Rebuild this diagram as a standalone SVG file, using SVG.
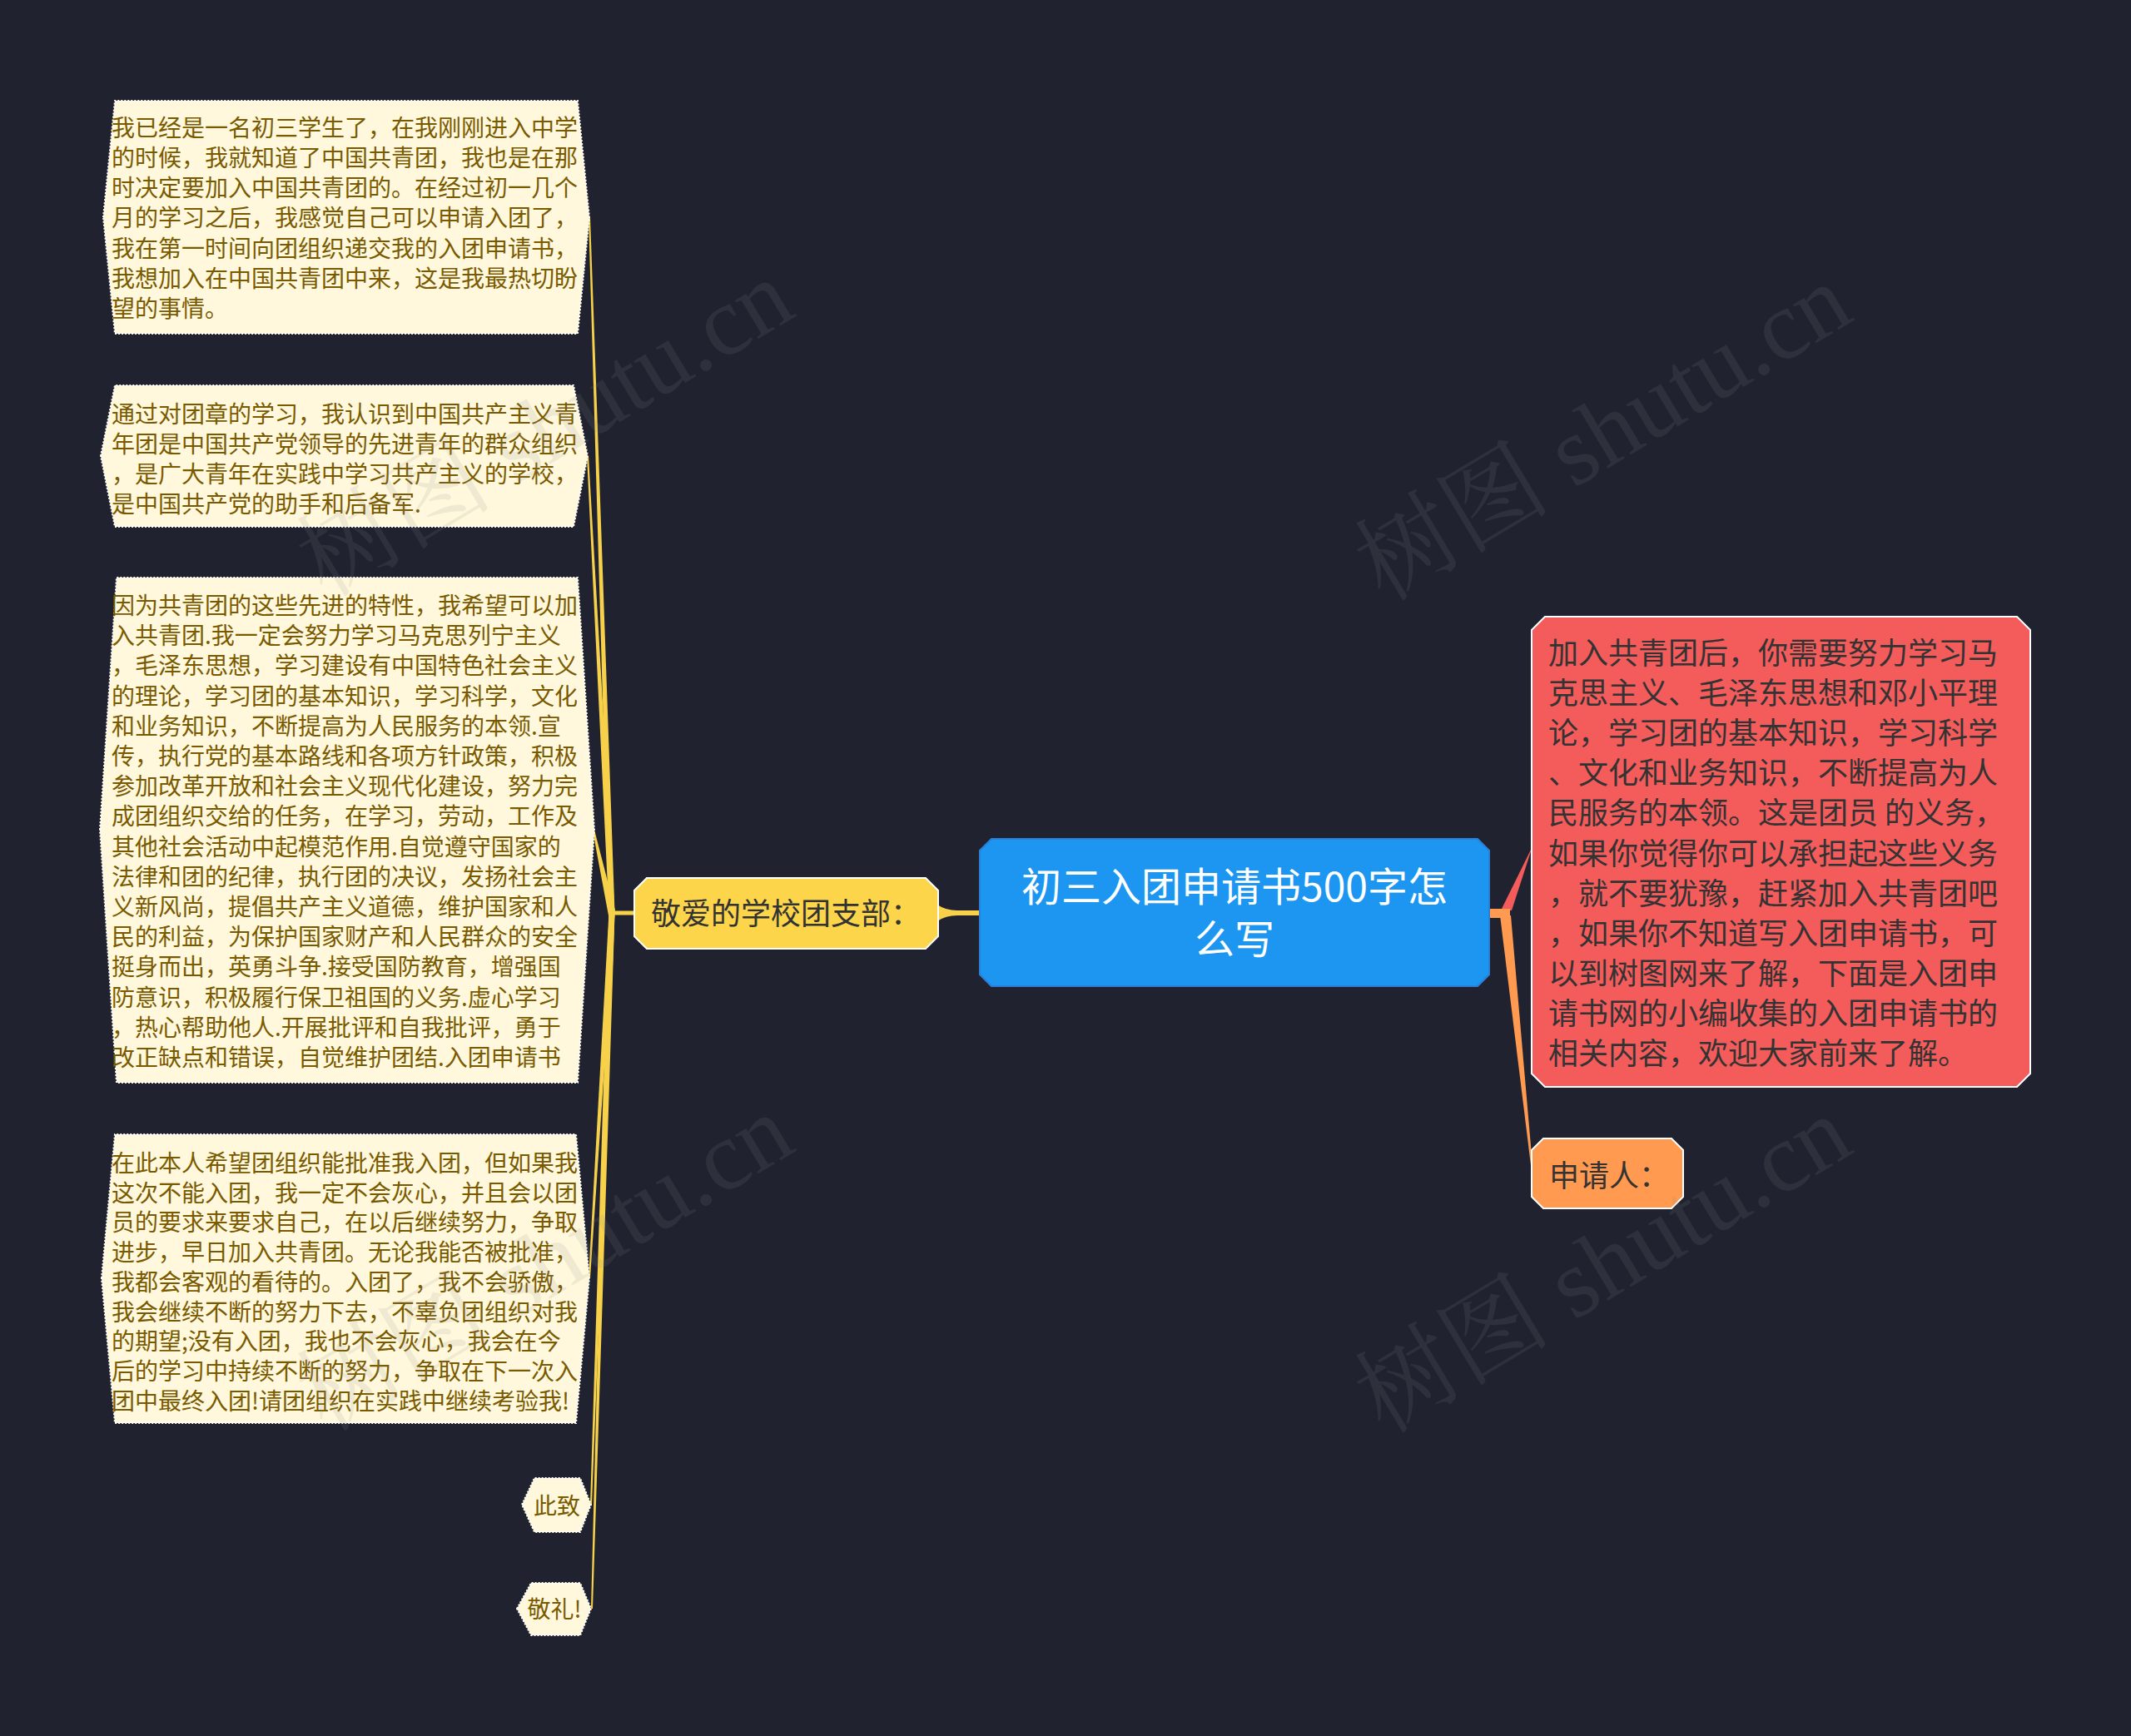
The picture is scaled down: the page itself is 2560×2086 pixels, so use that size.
<svg xmlns="http://www.w3.org/2000/svg" width="2560" height="2086" viewBox="0 0 2560 2086">
<style>
.bg{fill:#20232f}
.leaf{fill:#fff8dc;stroke:#ffffff;stroke-width:2;stroke-dasharray:2 2}
.lt{font-family:"Noto Sans CJK SC","Noto Sans",sans-serif;font-size:28px;fill:#7a5a00}
.dt{font-family:"Noto Sans CJK SC","Noto Sans",sans-serif;font-size:36px;fill:#333333}
.rt{font-family:"Noto Sans CJK SC","Noto Sans",sans-serif;font-size:48px;fill:#ffffff}
.wm{font-family:"Liberation Serif","Noto Serif CJK SC","Noto Sans CJK SC",serif;font-size:118px;fill:#8a8a8a;opacity:0.13}
.yc{fill:#f7d14a}
</style>
<rect class="bg" x="0" y="0" width="2560" height="2086"/>

<g id="connectors">
  <rect class="yc" x="733" y="1094.5" width="31" height="5"/>
  <polygon class="yc" points="731.5,1097 738.5,1097 709,261 707,261"/>
  <polygon class="yc" points="731.5,1097 738.5,1097 707,548 705,548"/>
  <polygon class="yc" points="731,1100 739,1094 714,997 712,998"/>
  <polygon class="yc" points="731.5,1097 738.5,1097 709,1536 707,1536"/>
  <polygon class="yc" points="731.5,1097 738.5,1097 711,1808 709,1808"/>
  <polygon class="yc" points="731.5,1097 738.5,1097 712,1933 710,1933"/>
  <path class="yc" d="M1178 1094 L1150 1094 Q1136 1094 1126 1087 L1126 1107 Q1136 1100 1150 1100 L1178 1100 Z"/>
  <polygon fill="#f45b5b" points="1803,1094 1816,1094 1841,1017"/>
  <rect fill="#ff9a50" x="1788" y="1092" width="26" height="11"/>
  <polygon fill="#ff9a50" points="1802,1100 1815,1100 1841,1400 1839,1400"/>
</g>

<g id="node-root">
  <polygon fill="#1c96f0" stroke="#2b7fd6" stroke-width="2" points="1191,1008 1775,1008 1789,1022 1789,1171 1775,1185 1191,1185 1177,1171 1177,1022"/>
  <text class="rt" text-anchor="middle"><tspan x="1483" y="1083">初三入团申请书500字怎</tspan><tspan x="1483" y="1146">么写</tspan></text>
</g>

<g id="node-hub">
  <polygon fill="#fdd54a" stroke="#ffffff" stroke-width="2" points="777,1055 1112,1055 1127,1070 1127,1125 1112,1140 777,1140 762,1125 762,1070"/>
  <text class="dt" x="782" y="1111">敬爱的学校团支部：</text>
</g>

<g id="node-leaf1">
  <polygon class="leaf" points="124,261 138,121 694,121 708,261 694,401 138,401"/>
  <text class="lt"><tspan x="134" y="164">我已经是一名初三学生了，在我刚刚进入中学</tspan><tspan x="134" y="200">的时候，我就知道了中国共青团，我也是在那</tspan><tspan x="134" y="236">时决定要加入中国共青团的。在经过初一几个</tspan><tspan x="134" y="272">月的学习之后，我感觉自己可以申请入团了，</tspan><tspan x="134" y="309">我在第一时间向团组织递交我的入团申请书，</tspan><tspan x="134" y="345">我想加入在中国共青团中来，这是我最热切盼</tspan><tspan x="134" y="381">望的事情。</tspan></text>
</g>

<g id="node-leaf2">
  <polygon class="leaf" points="121,548 138,463 689,463 706,548 689,633 138,633"/>
  <text class="lt"><tspan x="134" y="508">通过对团章的学习，我认识到中国共产主义青</tspan><tspan x="134" y="544">年团是中国共产党领导的先进青年的群众组织</tspan><tspan x="134" y="580">，是广大青年在实践中学习共产主义的学校，</tspan><tspan x="134" y="616">是中国共产党的助手和后备军.</tspan></text>
</g>

<g id="node-leaf3">
  <polygon class="leaf" points="120,997 140,694 694,694 714,997 694,1301 140,1301"/>
  <text class="lt"><tspan x="134" y="738">因为共青团的这些先进的特性，我希望可以加</tspan><tspan x="134" y="774">入共青团.我一定会努力学习马克思列宁主义</tspan><tspan x="134" y="810">，毛泽东思想，学习建设有中国特色社会主义</tspan><tspan x="134" y="847">的理论，学习团的基本知识，学习科学，文化</tspan><tspan x="134" y="883">和业务知识，不断提高为人民服务的本领.宣</tspan><tspan x="134" y="919">传，执行党的基本路线和各项方针政策，积极</tspan><tspan x="134" y="955">参加改革开放和社会主义现代化建设，努力完</tspan><tspan x="134" y="991">成团组织交给的任务，在学习，劳动，工作及</tspan><tspan x="134" y="1028">其他社会活动中起模范作用.自觉遵守国家的</tspan><tspan x="134" y="1064">法律和团的纪律，执行团的决议，发扬社会主</tspan><tspan x="134" y="1100">义新风尚，提倡共产主义道德，维护国家和人</tspan><tspan x="134" y="1136">民的利益，为保护国家财产和人民群众的安全</tspan><tspan x="134" y="1172">挺身而出，英勇斗争.接受国防教育，增强国</tspan><tspan x="134" y="1209">防意识，积极履行保卫祖国的义务.虚心学习</tspan><tspan x="134" y="1245">，热心帮助他人.开展批评和自我批评，勇于</tspan><tspan x="134" y="1281">改正缺点和错误，自觉维护团结.入团申请书</tspan></text>
</g>

<g id="node-leaf4">
  <polygon class="leaf" points="122,1536 138,1363 692,1363 708,1536 692,1710 138,1710"/>
  <text class="lt"><tspan x="134" y="1408">在此本人希望团组织能批准我入团，但如果我</tspan><tspan x="134" y="1444">这次不能入团，我一定不会灰心，并且会以团</tspan><tspan x="134" y="1479">员的要求来要求自己，在以后继续努力，争取</tspan><tspan x="134" y="1515">进步，早日加入共青团。无论我能否被批准，</tspan><tspan x="134" y="1551">我都会客观的看待的。入团了，我不会骄傲，</tspan><tspan x="134" y="1587">我会继续不断的努力下去，不辜负团组织对我</tspan><tspan x="134" y="1622">的期望;没有入团，我也不会灰心，我会在今</tspan><tspan x="134" y="1658">后的学习中持续不断的努力，争取在下一次入</tspan><tspan x="134" y="1694">团中最终入团!请团组织在实践中继续考验我!</tspan></text>
</g>

<g id="node-cizhi">
  <polygon class="leaf" points="627,1808 642,1776 697,1776 710,1808 697,1841 642,1841"/>
  <text class="lt" x="669" y="1820" text-anchor="middle">此致</text>
</g>

<g id="node-jingli">
  <polygon class="leaf" points="621,1933 638,1902 697,1902 710,1933 697,1965 638,1965"/>
  <text class="lt" x="666" y="1944" text-anchor="middle">敬礼!</text>
</g>

<g id="node-red">
  <polygon fill="#f45b5b" stroke="#ffffff" stroke-width="2" points="1856,741 2423,741 2439,757 2439,1290 2423,1306 1856,1306 1840,1290 1840,757"/>
  <text class="dt"><tspan x="1860" y="798">加入共青团后，你需要努力学习马</tspan><tspan x="1860" y="846">克思主义、毛泽东思想和邓小平理</tspan><tspan x="1860" y="894">论，学习团的基本知识，学习科学</tspan><tspan x="1860" y="942">、文化和业务知识，不断提高为人</tspan><tspan x="1860" y="990">民服务的本领。这是团员 的义务，</tspan><tspan x="1860" y="1039">如果你觉得你可以承担起这些义务</tspan><tspan x="1860" y="1087">，就不要犹豫，赶紧加入共青团吧</tspan><tspan x="1860" y="1135">，如果你不知道写入团申请书，可</tspan><tspan x="1860" y="1183">以到树图网来了解，下面是入团申</tspan><tspan x="1860" y="1231">请书网的小编收集的入团申请书的</tspan><tspan x="1860" y="1279">相关内容，欢迎大家前来了解。</tspan></text>
</g>

<g id="node-orange">
  <polygon fill="#ff9a50" stroke="#ffffff" stroke-width="2" points="1854,1368 2008,1368 2022,1382 2022,1438 2008,1452 1854,1452 1840,1438 1840,1382"/>
  <text class="dt" x="1861" y="1426">申请人：</text>
</g>

<g id="watermarks">
  <text class="wm" x="655" y="515" text-anchor="middle" dominant-baseline="central" transform="rotate(-31 655 515)">树图 shutu.cn</text>
  <text class="wm" x="1926" y="520" text-anchor="middle" dominant-baseline="central" transform="rotate(-31 1926 520)">树图 shutu.cn</text>
  <text class="wm" x="655" y="1518" text-anchor="middle" dominant-baseline="central" transform="rotate(-31 655 1518)">树图 shutu.cn</text>
  <text class="wm" x="1926" y="1520" text-anchor="middle" dominant-baseline="central" transform="rotate(-31 1926 1520)">树图 shutu.cn</text>
</g>
</svg>
